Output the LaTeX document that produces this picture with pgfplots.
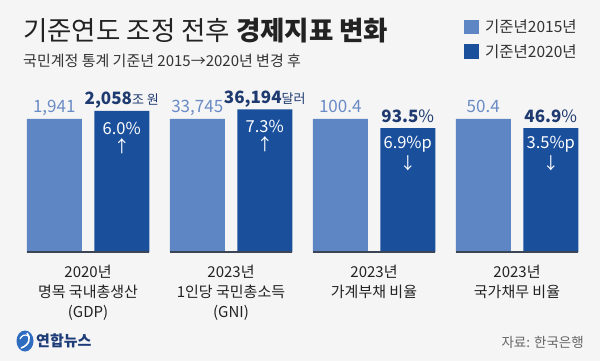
\documentclass[border=0pt]{standalone}
\usepackage{pgfplots}
\pgfplotsset{compat=1.18}
\usepackage{fontspec}
\setmainfont{Noto Sans CJK KR}
\definecolor{bg}{HTML}{F5F5F5}
\definecolor{lightbar}{HTML}{5F86C4}
\definecolor{darkbar}{HTML}{1A4F9C}
\definecolor{lightlab}{HTML}{6A8BC6}
\definecolor{darklab}{HTML}{1E3A70}
\definecolor{basec}{HTML}{3B4556}
\definecolor{titlec}{HTML}{222222}
\definecolor{subc}{HTML}{333333}
\definecolor{srcc}{HTML}{666666}
\definecolor{logoblue}{HTML}{2E6CC0}
\definecolor{logotext}{HTML}{1D3C78}
\begin{document}
\begin{tikzpicture}
\begin{axis}[x=143pt, y=1.33pt,
  xmin=-0.6154, xmax=3.5804, ymin=-81.955, ymax=189.474,
  hide axis, clip=false, axis background/.style={fill=bg}]
\coordinate (TL) at (rel axis cs:0,1);
\addplot[ybar, bar width=55pt, bar shift=-33.75pt, fill=lightbar, draw=none]
  coordinates {(0,100) (1,100) (2,100) (3,100)};
\addplot[ybar, bar width=55pt, bar shift=33.75pt, fill=darkbar, draw=none]
  coordinates {(0,106.03) (1,107.26) (2,93.13) (3,93.06)};
\draw[basec, line width=2pt] (axis cs:-0.4266,0) -- (axis cs:0.4266,0);
\draw[basec, line width=2pt] (axis cs:0.5734,0) -- (axis cs:1.4266,0);
\draw[basec, line width=2pt] (axis cs:1.5734,0) -- (axis cs:2.4266,0);
\draw[basec, line width=2pt] (axis cs:2.5734,0) -- (axis cs:3.4266,0);
% title, subtitle
\node[anchor=base west, inner sep=0, font=\fontsize{26.5}{30}\selectfont, text=titlec] at ([shift={(23pt,-41pt)}]TL) {기준연도 조정 전후 \textbf{경제지표 변화}};
\node[anchor=base west, inner sep=0, font=\fontsize{15}{18}\selectfont, text=subc] at ([shift={(23pt,-67pt)}]TL) {국민계정 통계 기준년 2015→2020년 변경 후};
% legend
\fill[lightbar] ([shift={(464pt,-20pt)}]TL) rectangle ([shift={(479pt,-34pt)}]TL);
\fill[darkbar] ([shift={(464pt,-44pt)}]TL) rectangle ([shift={(479pt,-59pt)}]TL);
\node[anchor=base west, inner sep=0, font=\fontsize{15.5}{18}\selectfont, text=subc] at ([shift={(485pt,-33pt)}]TL) {기준년2015년};
\node[anchor=base west, inner sep=0, font=\fontsize{15.5}{18}\selectfont, text=subc] at ([shift={(485pt,-58pt)}]TL) {기준년2020년};
% light value labels
\begin{scope}[every node/.style={anchor=base, inner sep=0, text=lightlab, font=\fontsize{17}{20}\selectfont, xshift=-33.75pt, yshift=6pt}]
\node at (axis cs:0,100) {1,941};
\node at (axis cs:1,100) {33,745};
\node at (axis cs:2,100) {100.4};
\node at (axis cs:3,100) {50.4};
\end{scope}
% dark value labels
\begin{scope}[every node/.style={anchor=base, inner sep=0, text=darklab, font=\fontsize{17}{20}\selectfont, xshift=33.75pt, yshift=6pt}]
\node at (axis cs:0,106.03) {\textbf{2,058}{\fontsize{13}{15}\selectfont 조 원}};
\node at (axis cs:1,107.26) {\textbf{36,194}{\fontsize{13}{15}\selectfont 달러}};
\node at (axis cs:2,93.13) {\textbf{93.5}\%};
\node at (axis cs:3,93.06) {\textbf{46.9}\%};
\end{scope}
% inner labels
\begin{scope}[every node/.style={anchor=center, inner sep=0, text=white, font=\fontsize{16.5}{19}\selectfont, xshift=33.75pt}]
\node[yshift=-17pt] at (axis cs:0,106.03) {6.0\%};
\node[yshift=-35pt] at (axis cs:0,106.03) {↑};
\node[yshift=-17pt] at (axis cs:1,107.26) {7.3\%};
\node[yshift=-35pt] at (axis cs:1,107.26) {↑};
\node[yshift=-16pt] at (axis cs:2,93.13) {6.9\%p};
\node[yshift=-35pt] at (axis cs:2,93.13) {↓};
\node[yshift=-16pt] at (axis cs:3,93.06) {3.5\%p};
\node[yshift=-35pt] at (axis cs:3,93.06) {↓};
\end{scope}
% category labels
\begin{scope}[every node/.style={anchor=base, inner sep=0, text=titlec, font=\fontsize{15}{18}\selectfont}]
\node[yshift=-25pt] at (axis cs:0,0) {2020년};
\node[yshift=-45pt] at (axis cs:0,0) {명목 국내총생산};
\node[yshift=-65pt] at (axis cs:0,0) {(GDP)};
\node[yshift=-25pt] at (axis cs:1,0) {2023년};
\node[yshift=-45pt] at (axis cs:1,0) {1인당 국민총소득};
\node[yshift=-65pt] at (axis cs:1,0) {(GNI)};
\node[yshift=-25pt] at (axis cs:2,0) {2023년};
\node[yshift=-45pt] at (axis cs:2,0) {가계부채 비율};
\node[yshift=-25pt] at (axis cs:3,0) {2023년};
\node[yshift=-45pt] at (axis cs:3,0) {국가채무 비율};
\end{scope}
% logo and source
\fill[logoblue] ([shift={(25pt,-341pt)}]TL) ellipse (8.5pt and 10.5pt);
\draw[white, line width=1.6pt] ([shift={(21pt,-348pt)}]TL) .. controls ([shift={(30pt,-345pt)}]TL) and ([shift={(31pt,-337pt)}]TL) .. ([shift={(27pt,-333pt)}]TL);
\draw[white, line width=1.2pt] ([shift={(20pt,-339pt)}]TL) .. controls ([shift={(22pt,-335pt)}]TL) and ([shift={(25pt,-334pt)}]TL) .. ([shift={(28pt,-336pt)}]TL);
\node[anchor=west, inner sep=0, font=\fontsize{15}{18}\selectfont\bfseries, text=logotext] at ([shift={(36pt,-341pt)}]TL) {연합뉴스};
\node[anchor=base east, inner sep=0, font=\fontsize{13.5}{16}\selectfont, text=srcc] at ([shift={(584pt,-347pt)}]TL) {자료: 한국은행};
\end{axis}
\end{tikzpicture}
\end{document}
